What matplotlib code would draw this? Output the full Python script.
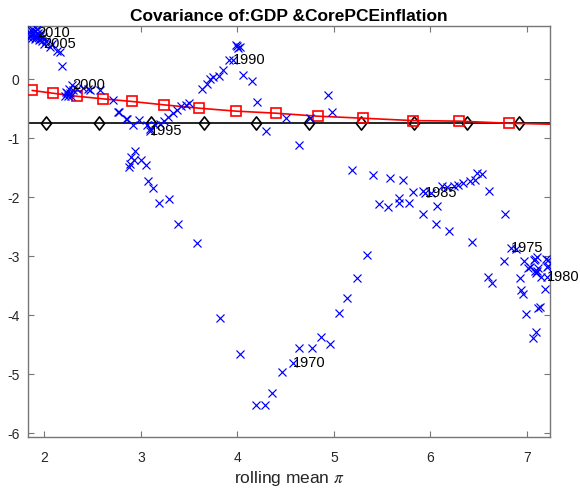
import matplotlib
matplotlib.use("Agg")
import matplotlib.pyplot as plt
from matplotlib.path import Path

plt.rcParams['font.family'] = ['Liberation Sans', 'DejaVu Sans']
plt.rcParams['mathtext.fontset'] = 'stix'
plt.rcParams['axes.unicode_minus'] = False

# Blue scatter: rolling mean inflation vs. covariance
scatter_x = [
    1.84, 1.86, 1.88, 1.90, 1.92, 1.85, 1.87, 1.89, 1.91, 1.93, 1.95, 1.97, 1.86, 1.90, 1.94,
    1.88, 1.92, 1.96, 1.99, 1.84, 1.95, 1.97,
    1.995, 2.02, 2.057, 2.075, 2.126, 2.16, 2.178,
    2.21, 2.23, 2.24, 2.26, 2.275, 2.295, 2.22, 2.25, 2.285, 2.334, 2.40, 2.455, 2.47, 2.575,
    2.713, 2.765, 2.776, 2.85, 2.86, 2.92, 2.98, 3.06, 3.09, 3.093,
    3.145, 3.20, 3.24, 3.28, 3.335, 3.376, 3.42, 3.466, 3.50,
    3.63, 3.68, 3.715, 3.75, 3.81, 3.853, 3.915, 3.953, 4.00, 4.026, 4.01, 3.985,
    4.06, 4.147, 4.20, 4.30, 4.50, 4.634, 4.75, 4.935, 4.98,
    2.94, 2.90, 2.93, 2.886, 2.88, 2.997, 3.05, 3.07, 3.13, 3.19, 3.29, 3.38, 3.58,
    3.82, 4.03, 4.19, 4.29, 4.36, 4.46, 4.58, 4.64, 4.77, 4.87, 4.96, 5.055, 5.14, 5.24, 5.345,
    5.19, 5.41, 5.58, 5.67, 5.72, 5.82, 5.925, 5.47, 5.56, 5.67, 5.78, 5.92, 6.07, 6.06, 6.195,
    6.01, 5.94, 6.116, 6.17, 6.24, 6.29, 6.34, 6.41, 6.46, 6.485, 6.54, 6.61, 6.43, 6.77,
    6.834, 6.886, 6.765, 6.97, 7.01, 7.07, 7.10, 7.08, 7.12, 7.09, 7.15, 7.20, 7.21, 7.207,
    7.19, 7.22, 7.22, 7.03, 7.08, 7.11, 6.60, 6.635, 6.93, 6.935, 6.955, 7.135, 7.12, 6.99,
    7.093, 7.06,
]
scatter_y = [
    0.80, 0.84, 0.78, 0.82, 0.76, 0.74, 0.70, 0.73, 0.71, 0.79, 0.74, 0.70, 0.77, 0.68, 0.66,
    0.84, 0.85, 0.78, 0.72, 0.70, 0.69, 0.655,
    0.60, 0.655, 0.54, 0.60, 0.486, 0.457, 0.23,
    -0.276, -0.24, -0.29, -0.225, -0.276, -0.19, -0.21, -0.157, -0.10, -0.16, -0.145, -0.16, -0.18, -0.19,
    -0.35, -0.56, -0.55, -0.67, -0.68, -0.77, -0.69, -0.77, -0.85, -0.87,
    -0.77, -0.76, -0.70, -0.64, -0.57, -0.52, -0.46, -0.44, -0.40,
    -0.16, -0.08, 0.007, 0.034, 0.063, 0.164, 0.333, 0.328, 0.57, 0.54, 0.53, 0.587,
    0.08, -0.022, -0.39, -0.87, -0.65, -1.12, -0.65, -0.26, -0.56,
    -1.21, -1.31, -1.375, -1.43, -1.49, -1.375, -1.45, -1.73, -1.84, -2.09, -2.03, -2.46, -2.775,
    -4.05, -4.66, -5.52, -5.51, -5.32, -4.96, -4.80, -4.55, -4.55, -4.37, -4.48, -3.96, -3.71, -3.36, -2.98,
    -1.53, -1.63, -1.68, -2.02, -1.71, -1.905, -1.895, -2.11, -2.17, -2.09, -2.09, -2.28, -2.15, -2.46, -2.57,
    -1.93, -1.92, -1.80, -1.83, -1.80, -1.79, -1.76, -1.73, -1.71, -1.58, -1.60, -1.895, -2.75, -2.28,
    -2.865, -2.87, -3.08, -3.08, -3.19, -3.06, -3.01, -3.24, -3.19, -3.29, -3.35, -3.05, -3.18, -3.35,
    -3.55, -3.07, -3.17, -3.18, -3.04, -3.24, -3.35, -3.45, -3.37, -3.575, -3.63, -3.85, -3.875, -3.97,
    -4.28, -4.375,
]

# Year labels placed at their data points
label_years = ['1970', '1975', '1980', '1985', '1990', '1995', '2000', '2005', '2010']
label_x = [4.58, 6.834, 7.207, 5.94, 3.953, 3.093, 2.285, 1.99, 1.93]
label_y = [-4.80, -2.865, -3.35, -1.92, 0.328, -0.87, -0.10, 0.60, 0.78]

# Red series (squares)
red_x = [1.875, 2.089, 2.337, 2.607, 2.91, 3.235, 3.60, 3.983, 4.40, 4.835, 5.30, 5.815, 6.30, 6.81, 7.33]
red_y = [-0.19, -0.237, -0.288, -0.332, -0.377, -0.433, -0.49, -0.54, -0.575, -0.626, -0.66, -0.70, -0.71, -0.745, -0.765]

# Black series (diamonds), constant level
black_x = [1.47, 2.016, 2.561, 3.106, 3.651, 4.196, 4.741, 5.286, 5.831, 6.376, 6.921, 7.466]
black_y = [-0.74] * len(black_x)

xticks = [2, 3, 4, 5, 6, 7]
yticks = [-6, -5, -4, -3, -2, -1, 0]

# MATLAB-like diamond (slightly taller than wide)
diamond = Path([(0, 1), (0.78, 0), (0, -1), (-0.78, 0), (0, 1)],
               [Path.MOVETO, Path.LINETO, Path.LINETO, Path.LINETO, Path.CLOSEPOLY])

fig = plt.figure(figsize=(5.8, 4.88), dpi=100)
ax = fig.add_axes([0.0483, 0.1045, 0.9, 0.842])

ax.plot(black_x, black_y, color='black', lw=1.2, marker=diamond, ms=9.5, mfc='none',
        mec='black', mew=1.2, markevery=slice(1, len(black_x) - 1), zorder=2)
ax.plot(red_x, red_y, color='red', lw=1.2, marker='s', ms=6.5, mfc='none',
        mec='red', mew=1.2, zorder=3)
ax.plot(scatter_x, scatter_y, ls='none', marker='x', ms=5.5, mew=0.85, color='blue', zorder=4)

for t, x, y in zip(label_years, label_x, label_y):
    ax.text(x, y, t, ha='left', va='center', fontsize=10.5, color='black', zorder=5)

ax.set_xlim(1.83, 7.24)
ax.set_ylim(-6.06, 0.9)
ax.set_xticks(xticks)
ax.set_yticks(yticks)
ax.set_xticklabels([str(v) for v in xticks])
ax.set_yticklabels([str(v) for v in yticks])

spine_c = '#767676'
for s in ax.spines.values():
    s.set_color(spine_c)
    s.set_linewidth(1.0)
ax.tick_params(direction='in', length=4, width=0.8, colors='#262626',
               top=True, right=True, labelsize=10)
ax.tick_params(color=spine_c)
ax.tick_params(axis='x', pad=10)
ax.tick_params(axis='y', pad=6)

ax.set_title('Covariance of:GDP &CorePCEinflation', fontsize=12.5, fontweight='bold', pad=4)
ax.set_xlabel(r'rolling mean $\pi$', fontsize=12.5, color='#262626', labelpad=3)

fig.savefig('out.png', dpi=100, facecolor='white')
